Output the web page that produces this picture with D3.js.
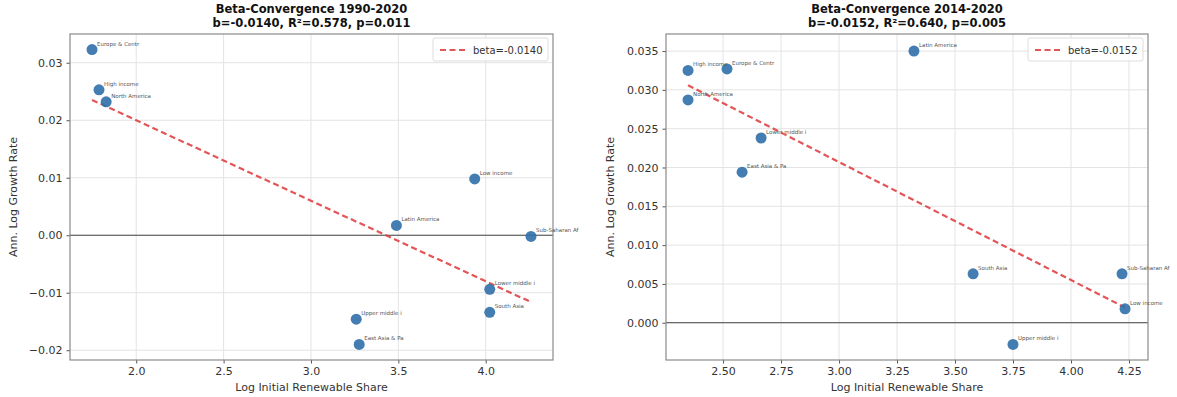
<!DOCTYPE html>
<html>
<head>
<meta charset="utf-8">
<script src="https://cdn.jsdelivr.net/npm/d3@7"></script>
<style>
  body { margin: 0; background: #fff; }
  svg { font-family: "DejaVu Sans", sans-serif; }
</style>
</head>
<body>
<div id="chart"></div>
<script>
// region labels (truncated as in the plot)
const regionsA = ['Europe & Centr', 'High income', 'North America', 'Low income', 'Latin America',
  'Sub-Saharan Af', 'Lower middle i', 'South Asia', 'Upper middle i', 'East Asia & Pa'];
const xA = [1.747, 1.787, 1.828, 3.937, 3.489, 4.259, 4.023, 4.023, 3.259, 3.276];
const yA = [0.0323, 0.0253, 0.0232, 0.0098, 0.0017, -0.0002, -0.0094, -0.0134, -0.0146, -0.0190];

const regionsB = ['High income', 'Europe & Centr', 'North America', 'Lower middle i', 'East Asia & Pa',
  'Latin America', 'South Asia', 'Sub-Saharan Af', 'Low income', 'Upper middle i'];
const xB = [2.349, 2.517, 2.349, 2.664, 2.582, 3.323, 3.578, 4.220, 4.233, 3.750];
const yB = [0.0325, 0.0327, 0.0287, 0.0238, 0.0194, 0.0350, 0.0063, 0.0063, 0.0018, -0.0028];

// fitted lines (slope, intercept)
const fitA = { slope: -0.0140, intercept: 0.0480 };
const fitB = { slope: -0.0152, intercept: 0.0663 };

const titlesA = ['Beta-Convergence 1990-2020', 'b=-0.0140, R\u00b2=0.578, p=0.011'];
const titlesB = ['Beta-Convergence 2014-2020', 'b=-0.0152, R\u00b2=0.640, p=0.005'];
const legendA = 'beta=-0.0140';
const legendB = 'beta=-0.0152';

const xTicksA = [2.0, 2.5, 3.0, 3.5, 4.0];
const yTicksA = [-0.02, -0.01, 0.00, 0.01, 0.02, 0.03];
const xTicksB = [2.50, 2.75, 3.00, 3.25, 3.50, 3.75, 4.00, 4.25];
const yTicksB = [0.000, 0.005, 0.010, 0.015, 0.020, 0.025, 0.030, 0.035];

const W = 1177, H = 397;
const svg = d3.select('#chart').append('svg').attr('width', W).attr('height', H);

const minus = s => s.replace('-', '\u2212');

function drawPanel(o) {
  const { left, right, top, bottom } = o.box;
  const x = d3.scaleLinear().domain(o.xDomain).range([left, right]);
  const y = d3.scaleLinear().domain(o.yDomain).range([bottom, top]);
  const g = svg.append('g');

  // grid
  g.append('g').selectAll('line').data(o.xTicks).join('line')
    .attr('x1', d => x(d)).attr('x2', d => x(d)).attr('y1', top).attr('y2', bottom)
    .attr('stroke', '#e3e3e3').attr('stroke-width', 1);
  g.append('g').selectAll('line').data(o.yTicks).join('line')
    .attr('y1', d => y(d)).attr('y2', d => y(d)).attr('x1', left).attr('x2', right)
    .attr('stroke', '#e3e3e3').attr('stroke-width', 1);

  // zero line
  g.append('line')
    .attr('x1', left).attr('x2', right).attr('y1', y(0)).attr('y2', y(0))
    .attr('stroke', '#444').attr('stroke-width', 1);

  // axes
  const xAxis = d3.axisBottom(x).tickValues(o.xTicks).tickFormat(d => d3.format(o.xFmt)(d)).tickSize(3.5).tickPadding(4);
  const yAxis = d3.axisLeft(y).tickValues(o.yTicks).tickFormat(d => minus(d3.format(o.yFmt)(d))).tickSize(3.5).tickPadding(4);
  const gx = g.append('g').attr('transform', `translate(0,${bottom})`).call(xAxis);
  const gy = g.append('g').attr('transform', `translate(${left},0)`).call(yAxis);
  [gx, gy].forEach(a => {
    a.select('.domain').remove();
    a.selectAll('.tick line').attr('stroke', '#555');
    a.selectAll('.tick text').attr('fill', '#333').attr('font-size', 11).attr('font-family', 'DejaVu Sans');
  });

  // frame
  g.append('rect')
    .attr('x', left).attr('y', top).attr('width', right - left).attr('height', bottom - top)
    .attr('fill', 'none').attr('stroke', '#8a8a8a').attr('stroke-width', 1.2);

  // fit line
  const xs = d3.extent(o.xs);
  g.append('line')
    .attr('x1', x(xs[0])).attr('y1', y(o.fit.intercept + o.fit.slope * xs[0]))
    .attr('x2', x(xs[1])).attr('y2', y(o.fit.intercept + o.fit.slope * xs[1]))
    .attr('stroke', '#e0383a').attr('stroke-width', 2.2)
    .attr('stroke-dasharray', '6,3.5').attr('opacity', 0.85);

  // points
  const pts = o.xs.map((v, i) => ({ x: v, y: o.ys[i], name: o.names[i] }));
  g.append('g').selectAll('circle').data(pts).join('circle')
    .attr('cx', d => x(d.x)).attr('cy', d => y(d.y)).attr('r', 5.5)
    .attr('fill', '#2f6fa8').attr('opacity', 0.9);

  // point labels
  g.append('g').selectAll('text').data(pts).join('text')
    .attr('x', d => x(d.x) + 5).attr('y', d => y(d.y) - 4)
    .attr('font-size', 5.5).attr('fill', '#555')
    .text(d => d.name);

  // legend
  const lx = right - 120, ly = top + 4;
  g.append('rect').attr('x', lx).attr('y', ly).attr('width', 115).attr('height', 23).attr('rx', 2)
    .attr('fill', '#fff').attr('fill-opacity', 0.8).attr('stroke', '#ddd');
  g.append('line').attr('x1', lx + 7).attr('x2', lx + 33).attr('y1', ly + 12).attr('y2', ly + 12)
    .attr('stroke', '#e0383a').attr('stroke-width', 2.2).attr('stroke-dasharray', '6,3.5').attr('opacity', 0.85);
  g.append('text').attr('x', lx + 40).attr('y', ly + 15.5).attr('font-size', 10).attr('fill', '#333')
    .text(o.legend);

  // titles
  const cx = (left + right) / 2;
  g.append('text').attr('x', cx).attr('y', 13).attr('text-anchor', 'middle')
    .attr('font-size', 11.5).attr('font-weight', 'bold').attr('fill', '#111').text(o.titles[0]);
  g.append('text').attr('x', cx).attr('y', 27).attr('text-anchor', 'middle')
    .attr('font-size', 11.5).attr('font-weight', 'bold').attr('fill', '#111').text(o.titles[1]);

  // axis labels
  g.append('text').attr('x', cx).attr('y', 391).attr('text-anchor', 'middle')
    .attr('font-size', 11).attr('fill', '#333').text('Log Initial Renewable Share');
  g.append('text').attr('transform', `translate(${o.ylabelX},${(top + bottom) / 2}) rotate(-90)`)
    .attr('text-anchor', 'middle').attr('font-size', 11).attr('fill', '#333').text('Ann. Log Growth Rate');
}

drawPanel({
  box: { left: 70, right: 553, top: 34, bottom: 360 },
  xDomain: [1.621, 4.385], yDomain: [-0.0217, 0.0350],
  xTicks: xTicksA, yTicks: yTicksA, xFmt: '.1f', yFmt: '.2f',
  xs: xA, ys: yA, names: regionsA, fit: fitA,
  titles: titlesA, legend: legendA, ylabelX: 17
});

drawPanel({
  box: { left: 666, right: 1148, top: 34, bottom: 360 },
  xDomain: [2.254, 4.332], yDomain: [-0.0048, 0.0372],
  xTicks: xTicksB, yTicks: yTicksB, xFmt: '.2f', yFmt: '.3f',
  xs: xB, ys: yB, names: regionsB, fit: fitB,
  titles: titlesB, legend: legendB, ylabelX: 614
});
</script>
</body>
</html>
